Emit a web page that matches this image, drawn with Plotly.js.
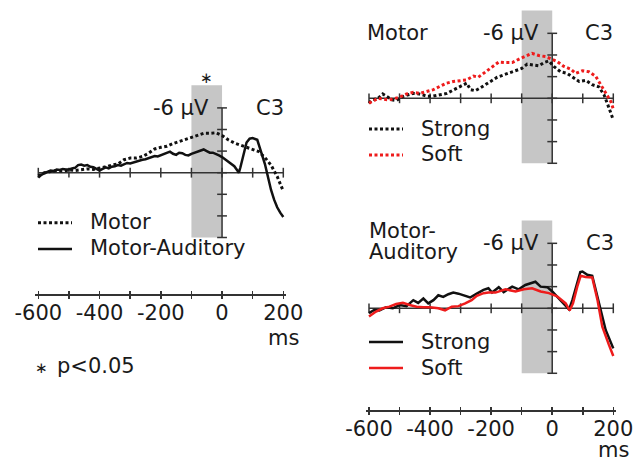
<!DOCTYPE html>
<html>
<head>
<meta charset="utf-8">
<script src="https://cdn.plot.ly/plotly-3.0.1.min.js"></script>
<style>
  html, body { margin: 0; padding: 0; background: #fff; }
  #chart { width: 636px; height: 464px; }
</style>
</head>
<body>
<div id="chart"></div>
<script>
// ERP waveforms at C3, time in ms, amplitude in µV (negative plotted upward)

// Left: Motor vs Motor-Auditory
const motorT = [-600,-580,-560,-540,-520,-500,-480,-460,-440,-420,-400,-380,-360,-340,-320,-300,-280,-260,-240,-220,-200,-180,-160,-140,-120,-100,-80,-60,-40,-20,0,20,40,60,80,100,120,140,160,180,190,200];
const motorV = [0.3,0.0,-0.1,-0.2,-0.15,-0.25,-0.2,-0.3,-0.35,-0.3,-0.4,-0.55,-0.7,-0.8,-1.2,-1.35,-1.35,-1.5,-1.8,-2.2,-2.35,-2.45,-2.7,-2.9,-3.1,-3.3,-3.45,-3.65,-3.65,-3.7,-3.45,-3.05,-2.75,-2.55,-2.35,-2.2,-1.95,-1.4,-0.7,0.35,1.0,1.7];

const motorAudT = [-600,-590,-580,-570,-560,-550,-540,-530,-520,-510,-500,-490,-480,-470,-460,-450,-440,-430,-420,-410,-400,-390,-380,-370,-360,-350,-340,-330,-320,-310,-300,-290,-280,-270,-260,-250,-240,-230,-220,-210,-200,-190,-180,-170,-160,-150,-140,-130,-120,-110,-100,-90,-80,-70,-60,-50,-40,-30,-20,-10,0,10,20,30,40,50,55,60,70,80,90,100,110,115,120,130,140,150,160,170,180,190,200];
const motorAudV = [0.45,0.2,0.05,-0.1,-0.2,-0.15,-0.3,-0.25,-0.35,-0.3,-0.3,-0.4,-0.45,-0.7,-0.75,-0.65,-0.7,-0.55,-0.5,-0.35,-0.2,-0.35,-0.5,-0.4,-0.55,-0.6,-0.7,-0.65,-0.8,-0.9,-0.85,-0.95,-1.05,-1.15,-1.2,-1.25,-1.35,-1.4,-1.55,-1.5,-1.6,-1.7,-1.85,-1.95,-1.75,-1.65,-1.85,-1.8,-1.65,-1.6,-1.75,-1.85,-1.95,-2.1,-2.15,-2.0,-1.85,-1.85,-1.75,-1.6,-1.45,-1.25,-1.05,-0.85,-0.6,-0.2,0.0,-0.5,-1.6,-2.8,-3.15,-3.2,-3.1,-3.05,-2.6,-1.8,-0.8,0.4,1.6,2.5,3.2,3.7,4.1];

// Top right: Motor, strong vs soft
const motorStrongT = [-600,-590,-570,-555,-540,-525,-510,-495,-475,-455,-435,-410,-390,-370,-345,-325,-300,-280,-268,-252,-236,-220,-200,-180,-160,-140,-115,-100,-82,-60,-44,-27,-11,5,27,49,71,88,110,131,153,170,186,200];
const motorStrongV = [0.45,0.15,0.0,-0.4,-0.15,0.15,0.2,-0.1,-0.3,-0.45,-0.4,-0.2,-0.2,-0.3,-0.45,-0.75,-1.1,-1.4,-0.8,-0.7,-0.95,-1.25,-1.55,-1.95,-2.15,-2.35,-2.55,-2.75,-3.15,-3.05,-3.0,-3.3,-3.45,-2.95,-2.45,-2.3,-1.85,-1.55,-1.65,-1.25,-1.05,-0.3,0.9,2.0];
const motorSoftT = [-600,-570,-535,-500,-477,-455,-433,-411,-389,-368,-346,-324,-302,-280,-258,-242,-225,-203,-197,-175,-153,-131,-110,-88,-66,-44,-22,0,16,38,60,77,99,120,142,159,175,192,200];
const motorSoftV = [0.45,0.0,0.15,-0.1,-0.4,-0.55,-0.45,-0.6,-0.8,-1.1,-1.4,-1.55,-1.65,-1.7,-2.05,-1.95,-2.3,-2.75,-2.9,-3.35,-3.3,-3.3,-3.6,-3.9,-4.15,-3.95,-3.85,-3.6,-3.4,-2.95,-2.7,-2.3,-2.55,-2.45,-2.05,-1.25,-0.45,0.3,1.0];

// Bottom right: Motor-Auditory, strong vs soft
const maStrongT = [-600,-583,-566,-544,-522,-500,-477,-455,-439,-422,-406,-389,-373,-357,-340,-324,-307,-291,-269,-247,-225,-209,-197,-175,-159,-131,-110,-88,-55,-38,-16,0,22,44,55,66,82,92,99,115,131,153,175,200];
const maStrongV = [0.45,0.15,0.2,-0.1,0.0,-0.3,-0.2,-0.75,-0.5,-0.9,-0.45,-0.75,-1.2,-1.05,-1.3,-1.45,-1.35,-1.2,-1.0,-1.35,-1.7,-1.85,-1.45,-1.95,-1.5,-2.0,-1.75,-2.15,-2.45,-2.0,-1.95,-1.55,-0.9,-0.3,0.1,-0.75,-2.45,-3.35,-3.4,-3.1,-3.0,-0.45,2.0,3.7];
const maSoftT = [-600,-577,-555,-533,-511,-489,-467,-444,-422,-400,-373,-351,-329,-307,-285,-264,-247,-225,-209,-186,-153,-120,-93,-66,-38,-11,16,44,57,68,82,93,109,131,148,164,186,200];
const maSoftV = [0.75,0.3,0.0,-0.15,-0.4,-0.5,-0.3,-0.15,-0.1,-0.1,0.0,0.2,-0.15,-0.2,-0.45,-0.75,-1.15,-1.4,-1.45,-1.45,-1.75,-1.55,-1.75,-1.85,-1.55,-1.4,-1.1,-0.45,0.2,-0.45,-2.0,-3.0,-2.9,-2.85,-0.8,1.7,3.4,4.4];

// Axis ticks and labels
const tickMs = [-600,-500,-400,-300,-200,-100,0,100,200];
const tickMsText = ['-600','','-400','','-200','','0','','200'];
const tickUv = [-6,-4,-2,0,2,4,6];
const windowMs = [-100, 0];   // shaded analysis window
const windowUv = [-8.1, 6];

const W = 636, H = 464;
const FONT = 'DejaVu Sans, Verdana, sans-serif';
const INK = '#1a1a1a';
const AXC = '#333333';
const RED = '#ee1c1c';
const BLK = '#111111';
const FS = 21;

const xRange = [-610, 210];
const yRange = [6.3, -8.6];   // reversed: negative up

function xDom(pxA, pxB) {          // pixel of -600 and of 200
  const k = (pxB - pxA) / 800;
  return [(pxA + (xRange[0] + 600) * k) / W, (pxB + (xRange[1] - 200) * k) / W];
}
function yDom(zeroPx, pxPerUv) {
  const bottom = zeroPx + yRange[0] * pxPerUv;
  const top = zeroPx + yRange[1] * pxPerUv;
  return [1 - bottom / H, 1 - top / H];
}
const px = x => x / W;
const py = y => 1 - y / H;

const zeros = a => a.map(() => 0);

function frame(xa, ya) {
  // zero-crossing axes with crossing tick marks
  const lines = {
    x: [tickMs[0], tickMs[tickMs.length - 1], null, 0, 0],
    y: [0, 0, null, tickUv[0], tickUv[tickUv.length - 1]],
    xaxis: xa, yaxis: ya, mode: 'lines',
    line: { color: AXC, width: 1.5 }, hoverinfo: 'skip', showlegend: false
  };
  const tickMarker = sym => ({ symbol: sym, size: 7, color: AXC, line: { color: AXC, width: 1.5 } });
  const hTicks = {
    x: tickMs, y: zeros(tickMs), xaxis: xa, yaxis: ya, mode: 'markers',
    marker: tickMarker('line-ns-open'),
    cliponaxis: false, hoverinfo: 'skip', showlegend: false
  };
  const vTicks = {
    x: zeros(tickUv), y: tickUv, xaxis: xa, yaxis: ya, mode: 'markers',
    marker: tickMarker('line-ew-open'),
    cliponaxis: false, hoverinfo: 'skip', showlegend: false
  };
  return [lines, hTicks, vTicks];
}

function wave(t, v, xa, ya, color, dotted) {
  return {
    x: t, y: v, xaxis: xa, yaxis: ya, mode: 'lines',
    line: { color: color, width: dotted ? 3 : 2.5, dash: dotted ? '3px,2.5px' : 'solid' },
    hoverinfo: 'skip', showlegend: false
  };
}

const traces = [].concat(
  frame('x', 'y'),
  frame('x2', 'y2'),
  frame('x3', 'y3'),
  [
    wave(motorT, motorV, 'x', 'y', BLK, true),
    wave(motorAudT, motorAudV, 'x', 'y', BLK, false),
    wave(motorStrongT, motorStrongV, 'x2', 'y2', BLK, true),
    wave(motorSoftT, motorSoftV, 'x2', 'y2', RED, true),
    wave(maStrongT, maStrongV, 'x3', 'y3', BLK, false),
    wave(maSoftT, maSoftV, 'x3', 'y3', RED, false),
    { x: [], y: [], xaxis: 'x4', yaxis: 'y', mode: 'lines', showlegend: false, hoverinfo: 'skip' },
    { x: [], y: [], xaxis: 'x5', yaxis: 'y3', mode: 'lines', showlegend: false, hoverinfo: 'skip' }
  ]
);

const hidden = { visible: false, range: yRange, fixedrange: true };

function timeAxis(domain, posPx, inside) {
  return {
    domain: domain, range: xRange, anchor: 'free', position: py(posPx),
    showline: !inside, linecolor: AXC, linewidth: 1.5,
    ticks: inside ? 'inside' : 'outside', ticklen: 3, tickwidth: 1.5, tickcolor: AXC,
    tickmode: 'array', tickvals: tickMs, ticktext: tickMsText,
    showticklabels: !inside, ticklabelstandoff: -4,
    tickfont: { family: FONT, size: FS, color: INK },
    showgrid: false, zeroline: false, fixedrange: true
  };
}

const domL = xDom(38.3, 283.3);
const domR = xDom(369.0, 613.3);

const layout = {
  width: W, height: H,
  margin: { l: 0, r: 0, t: 0, b: 0 },
  paper_bgcolor: '#ffffff', plot_bgcolor: 'rgba(0,0,0,0)',
  showlegend: false,
  font: { family: FONT, size: FS, color: INK },
  xaxis: timeAxis(domL, 294.3, false),
  xaxis4: Object.assign(timeAxis(domL, 294.3, true), { overlaying: 'x' }),
  yaxis: Object.assign({ domain: yDom(172.7, 10.8), anchor: 'x' }, hidden),
  xaxis2: { domain: domR, range: xRange, anchor: 'y2', visible: false, fixedrange: true },
  yaxis2: Object.assign({ domain: yDom(98.3, 10.83), anchor: 'x2' }, hidden),
  xaxis3: timeAxis(domR, 410, false),
  xaxis5: Object.assign(timeAxis(domR, 410, true), { overlaying: 'x3' }),
  yaxis3: Object.assign({ domain: yDom(308.3, 10.83), anchor: 'x3' }, hidden),
  shapes: [
    ['x', 'y'], ['x2', 'y2'], ['x3', 'y3']
  ].map(([xr, yr]) => ({
    type: 'rect', xref: xr, yref: yr, layer: 'below',
    x0: windowMs[0], x1: windowMs[1], y0: windowUv[0], y1: windowUv[1],
    fillcolor: '#c6c6c6', line: { width: 0 }
  })).concat([
    // legend swatches
    { type: 'line', xref: 'paper', yref: 'paper', x0: px(38), x1: px(72), y0: py(222.7), y1: py(222.7), line: { color: BLK, width: 3, dash: '3px,2.5px' } },
    { type: 'line', xref: 'paper', yref: 'paper', x0: px(38), x1: px(72), y0: py(249), y1: py(249), line: { color: BLK, width: 2.5 } },
    { type: 'line', xref: 'paper', yref: 'paper', x0: px(369), x1: px(403), y0: py(129), y1: py(129), line: { color: BLK, width: 3, dash: '3px,2.5px' } },
    { type: 'line', xref: 'paper', yref: 'paper', x0: px(369), x1: px(403), y0: py(155), y1: py(155), line: { color: RED, width: 3, dash: '3px,2.5px' } },
    { type: 'line', xref: 'paper', yref: 'paper', x0: px(369), x1: px(403), y0: py(342), y1: py(342), line: { color: BLK, width: 2.5 } },
    { type: 'line', xref: 'paper', yref: 'paper', x0: px(369), x1: px(403), y0: py(368), y1: py(368), line: { color: RED, width: 2.5 } }
  ]),
  annotations: [
    // left panel
    [211, 108, '-6 µV', 'right', 'middle'], [286, 108, 'C3', 'right', 'middle'],
    [88, 222, 'Motor', 'left', 'middle'], [88, 248, 'Motor-Auditory', 'left', 'middle'],
    [283, 338, 'ms', 'center', 'middle'], [55, 366, 'p<0.05', 'left', 'middle'],
    // top right
    [365, 33, 'Motor', 'left', 'middle'], [541, 33, '-6 µV', 'right', 'middle'], [615, 33, 'C3', 'right', 'middle'],
    [419, 129, 'Strong', 'left', 'middle'], [419, 154, 'Soft', 'left', 'middle'],
    // bottom right
    [367, 231, 'Motor-', 'left', 'middle'], [367, 252, 'Auditory', 'left', 'middle'],
    [541, 243, '-6 µV', 'right', 'middle'], [616, 243, 'C3', 'right', 'middle'],
    [419, 342, 'Strong', 'left', 'middle'], [419, 368, 'Soft', 'left', 'middle'],
    [613, 464, 'ms', 'center', 'bottom']
  ].map(([x, y, text, xa, ya]) => ({
    x: px(x), y: py(y), xref: 'paper', yref: 'paper', text: text,
    xanchor: xa, yanchor: ya, showarrow: false,
    font: { family: FONT, size: FS, color: INK }
  })).concat([
    [206, 78, '∗'], [41, 368, '∗']
  ].map(([x, y, text]) => ({
    x: px(x), y: py(y), xref: 'paper', yref: 'paper', text: text,
    xanchor: 'center', yanchor: 'middle', showarrow: false,
    font: { family: FONT, size: 15, color: INK }
  })))
};

Plotly.newPlot('chart', traces, layout, { staticPlot: true, displayModeBar: false });
</script>
</body>
</html>
